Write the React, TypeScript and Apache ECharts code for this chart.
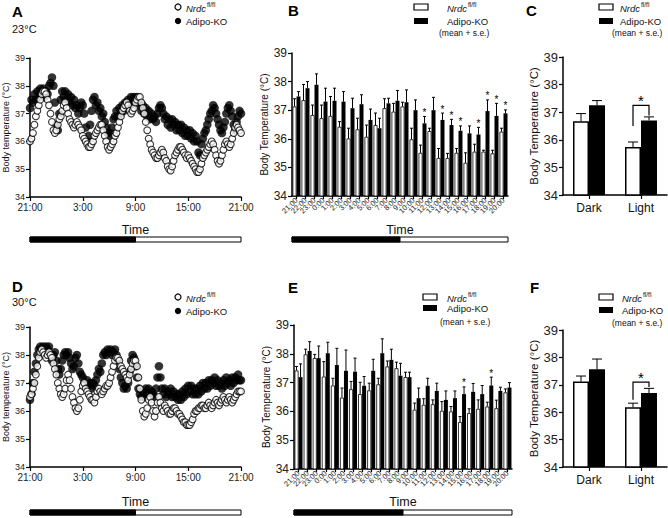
import React, { useEffect, useRef } from "react";
import * as echarts from "echarts";

const FONT = "'Liberation Sans', Arial, Helvetica, sans-serif";

// ---------- Panels A / D : traces, one reading every 10 min from 21:00 ----------
const traceTickLabels = ["21:00", "3:00", "9:00", "15:00", "21:00"];
const traceStepHours = 1 / 6;

const nrdc23Trace = [
  36.0, 36.1, 36.3, 36.6, 36.9, 37.1,
  37.3, 37.5, 37.7, 37.8, 37.8, 37.7,
  37.5, 37.3, 37.0, 36.7, 36.4, 36.3,
  36.4, 36.6, 36.8, 36.9, 37.1, 37.3,
  37.4, 37.2, 37.0, 36.8, 36.7, 36.6,
  36.5, 36.6, 36.7, 36.6, 36.5, 36.4,
  36.2, 36.1, 36.0, 35.9, 35.8, 35.8,
  35.9, 36.0, 36.2, 36.3, 36.4, 36.5,
  36.6, 36.6, 36.4, 36.2, 36.0, 35.8,
  35.7, 35.8, 35.9, 36.0, 36.2, 36.3,
  36.5, 36.7, 36.9, 37.1, 37.2, 37.3,
  37.4, 37.3, 37.1, 37.0, 37.1, 37.2,
  37.4, 37.5, 37.6, 37.6, 37.4, 37.2,
  37.0, 36.7, 36.4, 36.1, 35.9, 35.7,
  35.6, 35.5, 35.4, 35.4, 35.5, 35.6,
  35.7, 35.6, 35.4, 35.3, 35.1, 35.0,
  34.95, 35.1, 35.3, 35.5, 35.6, 35.7,
  35.8, 35.8, 35.7, 35.6, 35.5, 35.4,
  35.5, 35.4, 35.3, 35.2, 35.1, 35.0,
  34.9, 34.9, 35.0, 35.2, 35.4, 35.5,
  35.6, 35.7, 35.8, 35.9, 36.0, 35.9,
  35.7, 35.5, 35.3, 35.2, 35.3, 35.5,
  35.7, 35.9, 36.0, 35.9, 35.8, 35.9,
  36.1, 36.3, 36.5, 36.6, 36.5, 36.4,
  36.3,
];
const adipo23Trace = [
  37.2, 37.5, 37.4, 37.7, 37.5, 37.8,
  37.6, 37.9, 37.7, 37.9, 37.6, 37.8,
  37.7, 38.0, 38.1, 38.3, 38.0, 37.4,
  36.6, 36.4, 37.0, 37.5, 37.8, 37.6,
  37.8, 37.5, 37.7, 37.4, 37.6, 37.3,
  37.5, 37.2, 37.3, 37.0, 37.2, 37.4,
  37.3, 37.0, 36.5, 36.0, 36.2, 36.6,
  37.1, 37.5, 37.6, 37.3, 37.4, 37.1,
  37.2, 36.9, 37.0, 36.7, 36.5, 36.3,
  36.2, 36.3, 36.5, 36.8, 36.9, 37.1,
  36.9, 37.2, 37.0, 37.3, 37.1, 37.4,
  37.2, 37.5, 37.3, 37.6, 37.4, 37.6,
  37.4, 37.6, 37.3, 37.4, 37.1, 37.3,
  37.0, 37.2, 36.9, 37.1, 36.8, 37.0,
  36.8, 36.9, 36.7, 37.0, 37.2, 37.3,
  37.2, 37.0, 36.8, 36.9, 36.6, 36.8,
  36.5, 36.8, 36.6, 36.7, 36.4, 36.6,
  36.4, 36.6, 36.3, 36.5, 36.2, 36.4,
  36.2, 36.4, 36.1, 36.3, 36.0, 36.2,
  36.0, 35.6, 35.5, 35.9, 36.1, 36.3,
  36.4, 36.6, 36.8, 37.0, 37.1, 37.3,
  37.2, 37.0, 36.8, 36.6, 36.4, 36.3,
  36.5, 36.7, 37.0, 37.2, 37.3, 37.1,
  36.9, 36.6, 36.4, 36.7, 36.9, 37.1,
  37.0,
];
const nrdc30Trace = [
  36.5, 36.6, 36.8, 37.0, 37.3, 37.6,
  37.9, 38.1, 38.2, 38.1, 38.0, 37.9,
  38.0, 38.1, 38.0, 37.9, 37.7, 37.5,
  37.3, 37.0, 36.8, 36.6, 36.5, 36.6,
  36.8, 37.1, 37.3, 37.1, 36.8, 36.5,
  36.3, 36.1, 36.0, 36.1, 36.4, 36.7,
  36.9, 37.0, 36.8, 36.7, 36.6, 36.5,
  36.4, 36.4, 36.3, 36.5, 36.7, 36.8,
  36.7, 36.6, 36.7, 36.8, 36.9, 36.9,
  37.0, 37.2, 37.4, 37.6, 37.8, 37.9,
  37.9, 37.8, 37.6, 37.5, 37.4, 37.3,
  37.2, 37.1, 37.3, 37.5, 37.7, 37.8,
  37.8, 37.6, 37.2, 36.8, 36.4, 36.0,
  35.8, 35.9, 36.1, 36.4, 36.5, 36.3,
  36.0, 35.8, 36.0, 36.3, 36.5, 36.3,
  36.1, 36.0, 36.2, 36.1, 36.0, 35.9,
  35.9, 36.0, 36.1, 36.1, 36.0, 35.9,
  35.9, 35.8, 35.7, 35.6, 35.6, 35.5,
  35.5, 35.5, 35.6, 35.7, 35.9, 36.0,
  36.0, 36.1, 36.1, 36.2, 36.2, 36.1,
  36.1, 36.2, 36.3, 36.2, 36.1, 36.2,
  36.3, 36.4, 36.3, 36.2, 36.3, 36.4,
  36.5, 36.4, 36.3, 36.4, 36.5, 36.4,
  36.3, 36.4, 36.5, 36.6, 36.7, 36.7,
  36.7,
];
const adipo30Trace = [
  36.4, 36.6, 37.0, 37.4, 37.7, 38.0,
  38.2, 38.3, 38.2, 38.3, 38.2, 38.3,
  38.2, 38.3, 38.0, 37.8, 38.0, 38.1,
  37.8, 37.5, 37.3, 37.5, 37.8, 38.0,
  38.1, 38.0, 38.1, 37.9, 37.7, 37.5,
  37.6, 37.9, 38.0, 37.7, 37.4, 37.3,
  37.2, 37.0, 36.9, 37.1, 36.9, 37.0,
  36.8, 37.0, 36.9, 37.1, 37.3, 37.5,
  37.4, 37.7, 38.0, 38.1, 38.0, 38.2,
  38.1, 38.2, 38.0, 38.1, 38.2, 38.0,
  37.8, 37.5, 37.2, 37.0, 36.8, 36.9,
  36.8, 37.0, 37.4, 37.8, 38.0, 37.9,
  37.6, 37.2, 36.8, 36.6, 36.5, 36.7,
  36.5, 36.8, 36.6, 36.8, 36.5, 36.7,
  36.6, 36.5, 36.8, 37.2, 37.6, 37.2,
  36.8, 36.6, 36.8, 36.5, 36.7, 36.6,
  36.8, 36.5, 36.7, 36.5, 36.6, 36.4,
  36.6, 36.4, 36.7, 36.5, 36.8, 36.6,
  36.9, 36.7, 36.9, 36.6, 36.8, 36.6,
  36.8, 36.6, 36.9, 36.7, 37.0, 36.8,
  37.0, 36.8, 37.1, 36.9, 37.1, 37.0,
  37.2, 36.9, 37.1, 36.9, 37.0, 36.8,
  37.1, 36.9, 37.2, 37.0, 37.1, 36.9,
  37.2, 37.0, 37.2, 37.1, 37.3, 37.1,
  37.1,
];

// ---------- Panels B / E : hourly means + s.e. ----------
const hourLabels = [
  "21:00", "22:00", "23:00", "0:00", "1:00", "2:00", "3:00", "4:00",
  "5:00", "6:00", "7:00", "8:00", "9:00", "10:00", "11:00", "12:00",
  "13:00", "14:00", "15:00", "16:00", "17:00", "18:00", "19:00", "20:00",
];
const nrdc23Mean = [37.13, 37.35, 36.83, 36.72, 36.8, 36.42, 36.01, 36.33, 36.07, 36.48, 37.07, 36.95, 37.13, 35.98, 35.51, 36.27, 35.33, 35.33, 35.51, 35.16, 35.55, 35.55, 35.49, 36.25];
const nrdc23SE = [0.27, 0.55, 0.35, 0.46, 0.68, 0.18, 0.36, 0.39, 0.41, 0.42, 0.33, 0.29, 0.15, 0.39, 0.27, 0.1, 0.33, 0.16, 0.15, 0.35, 0.26, 0.05, 0.11, 0.12];
const adipo23Mean = [37.48, 37.77, 37.89, 37.3, 37.33, 37.3, 37.07, 37.21, 36.66, 36.37, 37.24, 37.33, 37.28, 37.0, 36.54, 37.0, 36.66, 36.48, 36.28, 36.19, 36.15, 36.97, 36.8, 36.89];
const adipo23SE = [0.17, 0.23, 0.38, 0.47, 0.44, 0.35, 0.35, 0.33, 0.38, 0.35, 0.18, 0.36, 0.43, 0.36, 0.24, 0.45, 0.24, 0.2, 0.17, 0.26, 0.25, 0.39, 0.44, 0.12];
const sigHours23 = ["11:00", "13:00", "14:00", "15:00", "17:00", "18:00", "19:00", "20:00"];

const nrdc30Mean = [37.42, 37.98, 37.85, 37.21, 36.9, 36.48, 36.77, 36.6, 36.73, 36.94, 37.56, 37.5, 37.19, 36.06, 36.23, 36.25, 36.02, 36.0, 35.63, 35.94, 36.09, 36.17, 36.11, 36.66];
const nrdc30SE = [0.14, 0.18, 0.13, 0.52, 0.25, 0.33, 0.27, 0.41, 0.25, 0.21, 0.19, 0.21, 0.17, 0.23, 0.21, 0.15, 0.32, 0.17, 0.19, 0.15, 0.31, 0.15, 0.28, 0.12];
const adipo30Mean = [37.19, 38.1, 37.85, 38.02, 37.61, 37.41, 37.38, 36.89, 37.41, 38.02, 37.79, 37.24, 37.19, 36.46, 36.89, 36.71, 36.4, 36.46, 36.6, 36.68, 36.6, 36.9, 36.71, 36.83];
const adipo30SE = [0.46, 0.32, 0.42, 0.38, 0.58, 0.72, 0.47, 0.32, 0.4, 0.5, 0.37, 0.43, 0.17, 0.35, 0.26, 0.27, 0.31, 0.25, 0.25, 0.29, 0.3, 0.29, 0.13, 0.17];
const sigHours30 = ["15:00", "18:00"];

// ---------- Panels C / F : dark / light phase ----------
const phaseLabels = ["Dark", "Light"];
const nrdc23Phase = [36.67, 35.74];
const nrdc23PhaseSE = [0.28, 0.18];
const adipo23Phase = [37.25, 36.7];
const adipo23PhaseSE = [0.17, 0.13];
const nrdc30Phase = [37.12, 36.18];
const nrdc30PhaseSE = [0.2, 0.15];
const adipo30Phase = [37.57, 36.7];
const adipo30PhaseSE = [0.37, 0.17];
// significance bracket on "Light": [left leg end, top, right leg end]
const bracket23 = [36.5, 37.25, 36.88];
const bracket30 = [36.45, 37.1, 36.92];

// ---------- layout ----------
const gA = { left: 30, top: 58, width: 211, height: 139 };
const gB = { left: 292, top: 53, width: 216, height: 143 };
const gC = { left: 563, top: 57, width: 104, height: 138 };
const gD = { left: 30, top: 327, width: 211, height: 140 };
const gE = { left: 294, top: 325, width: 218, height: 144 };
const gF = { left: 563, top: 330, width: 104, height: 137 };
const grids = [gA, gB, gC, gD, gE, gF];

const axisLine = { show: true, lineStyle: { color: "#000", width: 1.5 } };
const axisTick = { show: true, length: 4, lineStyle: { color: "#000", width: 1.2 } };

function tempYAxis(gridIndex: number, labelSize: number, name: string, nameSize: number, nameGap: number) {
  return {
    type: "value", gridIndex, min: 34, max: 39, interval: 1,
    name, nameLocation: "middle", nameGap,
    nameTextStyle: { fontSize: nameSize, color: "#111", fontFamily: FONT },
    axisLine, axisTick,
    axisLabel: { fontSize: labelSize, color: "#222", margin: 5, fontFamily: FONT },
    splitLine: { show: false },
  };
}
function traceXAxis(gridIndex: number) {
  return {
    type: "value", gridIndex, min: 0, max: 24, interval: 6,
    axisLine, axisTick,
    axisLabel: { formatter: (v: number) => traceTickLabels[Math.round(v / 6)] ?? "", fontSize: 10, color: "#222", margin: 5, fontFamily: FONT },
    splitLine: { show: false },
  };
}
function hourXAxis(gridIndex: number) {
  return {
    type: "category", gridIndex, data: hourLabels,
    axisLine, axisTick: { ...axisTick, length: 3, alignWithLabel: true, interval: 0 },
    axisLabel: { rotate: 45, interval: 0, fontSize: 7.5, margin: 3, color: "#222", fontFamily: FONT },
  };
}
function phaseXAxis(gridIndex: number) {
  return {
    type: "category", gridIndex, data: phaseLabels,
    axisLine, axisTick: { ...axisTick, alignWithLabel: true },
    axisLabel: { fontSize: 12, margin: 7, color: "#111", fontFamily: FONT },
  };
}

function scatterSeries(idx: number, vals: number[], filled: boolean) {
  return {
    type: "scatter", xAxisIndex: idx, yAxisIndex: idx, silent: true,
    data: vals.map((v, i) => [i * traceStepHours, v]),
    symbol: "circle", symbolSize: filled ? 8.5 : 6.8, z: filled ? 2 : 3,
    itemStyle: filled ? { color: "#000" } : { color: "#fff", borderColor: "#000", borderWidth: 1.1 },
  };
}
function barSeries(idx: number, vals: number[], filled: boolean, width: number) {
  return {
    type: "bar", xAxisIndex: idx, yAxisIndex: idx, silent: true, data: vals,
    barWidth: width, barGap: "0%",
    itemStyle: filled ? { color: "#000" } : { color: "#fff", borderColor: "#000", borderWidth: width > 8 ? 1.5 : 0.8 },
  };
}
function errSeries(idx: number, means: number[], ses: number[], offset: number, capHalf: number) {
  return {
    type: "custom", xAxisIndex: idx, yAxisIndex: idx, silent: true, z: 5,
    itemStyle: { color: "#000" },
    data: means.map((m, i) => [i, m, m + ses[i]]),
    encode: { x: 0, y: 1 },
    renderItem: (_p: any, api: any) => {
      const p0 = api.coord([api.value(0), api.value(1)]);
      const p1 = api.coord([api.value(0), api.value(2)]);
      const x = p0[0] + offset;
      return {
        type: "group",
        children: [
          { type: "line", shape: { x1: x, y1: p0[1], x2: x, y2: p1[1] }, style: { stroke: "#000", lineWidth: 1 } },
          { type: "line", shape: { x1: x - capHalf, y1: p1[1], x2: x + capHalf, y2: p1[1] }, style: { stroke: "#000", lineWidth: 1 } },
        ],
      };
    },
  };
}
function starSeries(idx: number, sig: string[], means: number[], ses: number[], offset: number) {
  return {
    type: "custom", xAxisIndex: idx, yAxisIndex: idx, silent: true, z: 6,
    itemStyle: { color: "#000" },
    data: sig.map((h) => {
      const i = hourLabels.indexOf(h);
      return [i, means[i] + ses[i]];
    }),
    encode: { x: 0, y: 1 },
    renderItem: (_p: any, api: any) => {
      const p = api.coord([api.value(0), api.value(1)]);
      return {
        type: "text", x: p[0] + offset, y: p[1] + 1,
        style: { text: "*", fontSize: 10, fontFamily: FONT, fill: "#000", align: "center", verticalAlign: "bottom" },
      };
    },
  };
}
function bracketSeries(idx: number, b: number[], half: number) {
  return {
    type: "custom", xAxisIndex: idx, yAxisIndex: idx, silent: true, z: 6,
    itemStyle: { color: "#000" },
    data: [[1, b[0], b[1], b[2]]],
    encode: { x: 0, y: 2 },
    renderItem: (_p: any, api: any) => {
      const c = api.coord([api.value(0), api.value(2)]);
      const yl = api.coord([api.value(0), api.value(1)])[1];
      const yr = api.coord([api.value(0), api.value(3)])[1];
      return {
        type: "group",
        children: [
          { type: "polyline", shape: { points: [[c[0] - half, yl], [c[0] - half, c[1]], [c[0] + half, c[1]], [c[0] + half, yr]] }, style: { stroke: "#000", lineWidth: 1.2, fill: "none" } },
          { type: "text", x: c[0], y: c[1] + 3, style: { text: "*", fontSize: 15, fontFamily: FONT, fill: "#000", align: "center", verticalAlign: "bottom" } },
        ],
      };
    },
  };
}

const richNrdc = {
  i: { fontSize: 9.5, fontStyle: "italic", fontFamily: FONT, fill: "#111", lineHeight: 12, verticalAlign: "bottom" },
  s: { fontSize: 6.5, fontFamily: FONT, fill: "#111", lineHeight: 6, verticalAlign: "top", padding: [0, 0, 4, 1] },
};

function txt(x: number, y: number, text: string, size: number, extra: any = {}) {
  return { type: "text", x, y, silent: true, style: { text, fontSize: size, fontFamily: FONT, fill: "#111", align: "left", verticalAlign: "middle", ...extra } };
}
function traceLegend(x: number, y: number) {
  return [
    { type: "circle", shape: { cx: x, cy: y, r: 3 }, style: { fill: "#fff", stroke: "#000", lineWidth: 1.2 } },
    { type: "text", x: x + 8, y, style: { text: "{i|Nrdc}{s|fl/fl}", rich: richNrdc, align: "left", verticalAlign: "middle" } },
    { type: "circle", shape: { cx: x, cy: y + 14, r: 3.2 }, style: { fill: "#000" } },
    txt(x + 8, y + 14, "Adipo-KO", 9.5),
  ];
}
function barLegend(rx: number, ry: number, tx: number, mx: number, step: number, mstep: number) {
  return [
    { type: "rect", shape: { x: rx, y: ry - 3, width: 14, height: 6 }, style: { fill: "#fff", stroke: "#000", lineWidth: 1.2 } },
    { type: "text", x: tx, y: ry, style: { text: "{i|Nrdc}{s|fl/fl}", rich: richNrdc, align: "left", verticalAlign: "middle" } },
    { type: "rect", shape: { x: rx, y: ry + step - 3, width: 14, height: 6 }, style: { fill: "#000" } },
    txt(tx, ry + step, "Adipo-KO", 9.5),
    txt(mx, ry + mstep, "(mean + s.e.)", 8.5),
  ];
}
function lightBar(g: any, y: number) {
  return [
    { type: "rect", shape: { x: g.left, y, width: g.width, height: 5 }, style: { fill: "#fff", stroke: "#000", lineWidth: 1 } },
    { type: "rect", shape: { x: g.left, y, width: g.width / 2, height: 5 }, style: { fill: "#000", stroke: "#000", lineWidth: 1 } },
  ];
}
function timeLabel(g: any, y: number) {
  return txt(g.left + g.width / 2, y, "Time", 12.5, { align: "center" });
}

function buildOption() {
  const graphic: any[] = [
    txt(12, 11, "A", 15, { fontWeight: "bold", fill: "#000" }),
    txt(288, 10, "B", 15, { fontWeight: "bold", fill: "#000" }),
    txt(526, 10, "C", 15, { fontWeight: "bold", fill: "#000" }),
    txt(12, 286, "D", 15, { fontWeight: "bold", fill: "#000" }),
    txt(288, 287, "E", 15, { fontWeight: "bold", fill: "#000" }),
    txt(530, 287, "F", 15, { fontWeight: "bold", fill: "#000" }),
    txt(12, 29, "23°C", 11),
    txt(12, 302, "30°C", 11),
    ...traceLegend(178, 7),
    ...traceLegend(178, 297),
    ...barLegend(414, 7, 447, 439, 14, 26),
    ...barLegend(423, 297, 447, 440, 11, 25),
    ...barLegend(599, 7, 620, 612, 14, 26),
    ...barLegend(599, 297, 622, 612, 13, 26),
    timeLabel(gA, 230), timeLabel(gB, 230), timeLabel(gD, 502), timeLabel(gE, 502),
    ...lightBar(gA, 237), ...lightBar(gB, 237), ...lightBar(gD, 510), ...lightBar(gE, 510),
  ];

  return {
    animation: false,
    backgroundColor: "#fff",
    textStyle: { fontFamily: FONT },
    grid: grids.map((g) => ({ ...g, containLabel: false })),
    xAxis: [traceXAxis(0), hourXAxis(1), phaseXAxis(2), traceXAxis(3), hourXAxis(4), phaseXAxis(5)],
    yAxis: [
      tempYAxis(0, 9, "Body temperature (°C)", 9, 20),
      tempYAxis(1, 12, "Body Temperature (°C)", 10, 19),
      tempYAxis(2, 13, "Body Temperature (°C)", 11.5, 20),
      tempYAxis(3, 9, "Body temperature (°C)", 9, 20),
      tempYAxis(4, 12, "Body Temperature (°C)", 10, 19),
      tempYAxis(5, 13, "Body Temperature (°C)", 11.5, 20),
    ],
    series: [
      scatterSeries(0, adipo23Trace, true),
      scatterSeries(0, nrdc23Trace, false),
      barSeries(1, nrdc23Mean, false, 4),
      barSeries(1, adipo23Mean, true, 4),
      errSeries(1, nrdc23Mean, nrdc23SE, -2, 1.5),
      errSeries(1, adipo23Mean, adipo23SE, 2, 1.5),
      starSeries(1, sigHours23, adipo23Mean, adipo23SE, 2),
      barSeries(2, nrdc23Phase, false, 16),
      barSeries(2, adipo23Phase, true, 16),
      errSeries(2, nrdc23Phase, nrdc23PhaseSE, -8, 5),
      errSeries(2, adipo23Phase, adipo23PhaseSE, 8, 5),
      bracketSeries(2, bracket23, 8),
      scatterSeries(3, adipo30Trace, true),
      scatterSeries(3, nrdc30Trace, false),
      barSeries(4, nrdc30Mean, false, 4),
      barSeries(4, adipo30Mean, true, 4),
      errSeries(4, nrdc30Mean, nrdc30SE, -2, 1.5),
      errSeries(4, adipo30Mean, adipo30SE, 2, 1.5),
      starSeries(4, sigHours30, adipo30Mean, adipo30SE, 2),
      barSeries(5, nrdc30Phase, false, 16),
      barSeries(5, adipo30Phase, true, 16),
      errSeries(5, nrdc30Phase, nrdc30PhaseSE, -8, 5),
      errSeries(5, adipo30Phase, adipo30PhaseSE, 8, 5),
      bracketSeries(5, bracket30, 8),
    ],
    graphic,
  };
}

export default function App() {
  const ref = useRef<HTMLDivElement>(null);
  useEffect(() => {
    const chart = echarts.init(ref.current!, null, { renderer: "svg" });
    chart.setOption(buildOption() as any);
    return () => chart.dispose();
  }, []);
  return (
    <div
      ref={ref}
      style={{ position: "absolute", left: 0, top: 0, width: 668, height: 518, background: "#fff" }}
    />
  );
}
